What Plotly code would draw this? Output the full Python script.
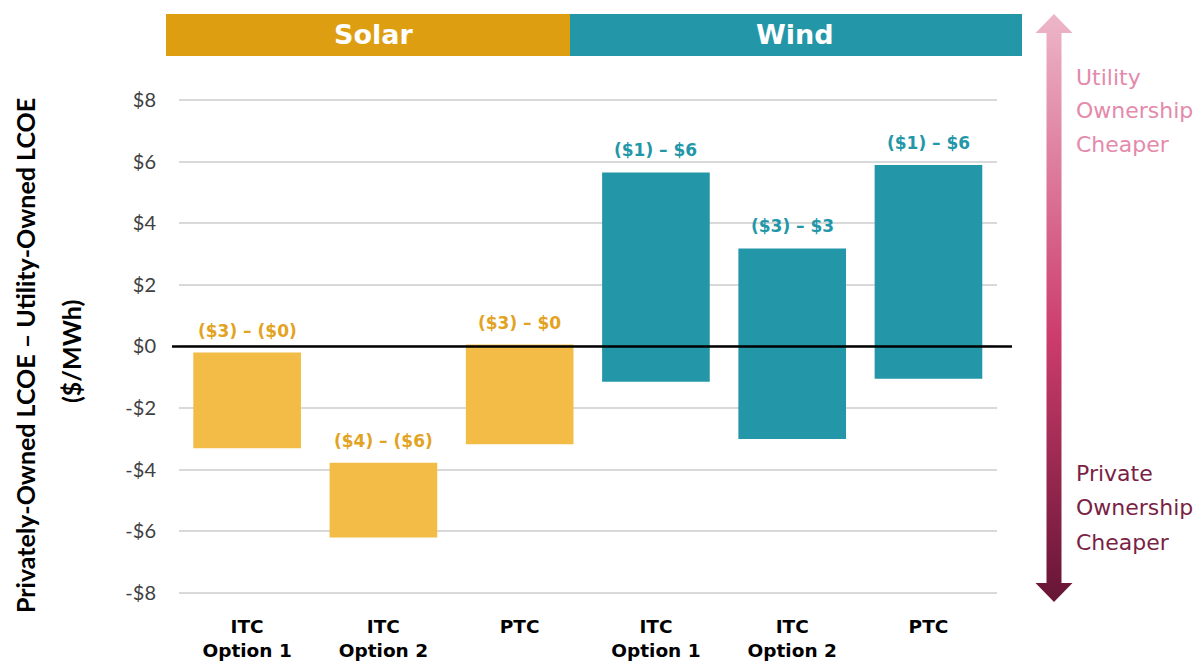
import plotly.graph_objects as go

# ---------------- data ----------------
incentives = ["ITC<br>Option 1", "ITC<br>Option 2", "PTC"]
technologies = ["Solar", "Wind"]

solar_low = [-3.31, -6.21, -3.18]
solar_high = [-0.20, -3.78, 0.06]
wind_low = [-1.15, -3.01, -1.05]
wind_high = [5.65, 3.18, 5.89]

solar_labels = ["($3) – ($0)", "($4) – ($6)", "($3) – $0"]
wind_labels = ["($1) – $6", "($3) – $3", "($1) – $6"]

y_tick_vals = [8, 6, 4, 2, 0, -2, -4, -6, -8]
y_tick_text = ["$8", "$6", "$4", "$2", "$0", "-$2", "-$4", "-$6", "-$8"]

y_title = "Privately-Owned LCOE – Utility-Owned LCOE"
y_unit = "($/MWh)"
up_lines = ["Utility", "Ownership", "Cheaper"]
down_lines = ["Private", "Ownership", "Cheaper"]

# ---------------- styles ----------------
FONT = "Lato"
WIDE = "DejaVu Sans"
SOLAR_BAR = "#F2BC47"
SOLAR_HEAD = "#DE9E12"
SOLAR_TXT = "#E2A323"
WIND = "#2397A8"
GRID = "#D9D9D9"

W, H = 1203, 662
ML, MR, MT, MB = 179, 0, 10, 57
PW = W - ML - MR
PH = H - MT - MB


def px_x(px):
    return (px - ML) / PW


def px_y(py):
    return (H - MB - py) / PH


solar_x = list(range(len(incentives)))
wind_x = [i + len(incentives) for i in range(len(incentives))]

fig = go.Figure()

fig.add_trace(go.Bar(
    x=solar_x, base=solar_low,
    y=[h - l for h, l in zip(solar_high, solar_low)],
    width=0.79, marker=dict(color=SOLAR_BAR, line=dict(width=0)),
    name="Solar", showlegend=False, hoverinfo="skip",
))
fig.add_trace(go.Bar(
    x=wind_x, base=wind_low,
    y=[h - l for h, l in zip(wind_high, wind_low)],
    width=0.79, marker=dict(color=WIND, line=dict(width=0)),
    name="Wind", showlegend=False, hoverinfo="skip",
))

annotations = []
for xs, highs, labels, col in [(solar_x, solar_high, solar_labels, SOLAR_TXT),
                               (wind_x, wind_high, wind_labels, WIND)]:
    for x, h, t in zip(xs, highs, labels):
        annotations.append(dict(
            x=x, y=h, xref="x", yref="y", text=t, showarrow=False,
            yanchor="bottom", yshift=10,
            font=dict(family=WIDE, size=17, color=col, weight="bold"),
        ))

# arrow (decoration) on its own pixel-like axes
ax_x0 = 1029
arrow_x = [25, 43.5, 32.5, 32.5, 43.5, 25, 6.5, 17.5, 17.5, 6.5, 25]
arrow_y = [591, 572, 572, 22, 22, 3, 22, 22, 572, 572, 591]
fig.add_trace(go.Scatter(
    x=arrow_x, y=arrow_y, xaxis="x2", yaxis="y2", mode="lines",
    line=dict(width=0), fill="toself",
    fillgradient=dict(type="vertical", start=3, stop=591,
                      colorscale=[[0, "#661535"], [0.45, "#CC3C6C"], [1, "#EDB6C8"]]),
    hoverinfo="skip", showlegend=False,
))

# header bands
shapes = [
    dict(type="rect", xref="paper", yref="paper",
         x0=px_x(166), x1=px_x(570), y0=px_y(56), y1=px_y(14),
         fillcolor=SOLAR_HEAD, line=dict(width=0), layer="below"),
    dict(type="rect", xref="paper", yref="paper",
         x0=px_x(570), x1=px_x(1022), y0=px_y(56), y1=px_y(14),
         fillcolor=WIND, line=dict(width=0), layer="below"),
    dict(type="line", xref="paper", yref="y",
         x0=px_x(172), x1=px_x(1012), y0=0, y1=0,
         line=dict(color="black", width=2.5)),
]
for name, cx in zip(technologies, [373, 795]):
    annotations.append(dict(
        x=px_x(cx), y=px_y(35), xref="paper", yref="paper", text=name,
        showarrow=False, xanchor="center", yanchor="middle",
        font=dict(family=WIDE, size=27, color="white", weight="bold"),
    ))

for lines, col, ys in [(up_lines, "#E48AAB", [77, 111, 145]),
                       (down_lines, "#7A1F45", [473, 507, 542])]:
    for t, py in zip(lines, ys):
        annotations.append(dict(
            x=px_x(1074), y=px_y(py), xref="paper", yref="paper", text=t,
            showarrow=False, xanchor="left", yanchor="middle", align="left",
            font=dict(family=WIDE, size=22, color=col),
        ))

annotations.append(dict(
    x=px_x(25), y=px_y(356), xref="paper", yref="paper", text=y_title,
    showarrow=False, textangle=-90, xanchor="center", yanchor="middle",
    font=dict(family=FONT, size=25, color="black", weight="bold"),
))
annotations.append(dict(
    x=px_x(71), y=px_y(352), xref="paper", yref="paper", text=y_unit,
    showarrow=False, textangle=-90, xanchor="center", yanchor="middle",
    font=dict(family=FONT, size=25, color="black", weight="bold"),
))

fig.update_layout(
    width=W, height=H,
    margin=dict(l=ML, r=MR, t=MT, b=MB, pad=0),
    paper_bgcolor="white", plot_bgcolor="white",
    barmode="overlay",
    showlegend=False,
    xaxis=dict(
        domain=[0, px_x(996.6)], range=[-0.5, 5.5],
        tickvals=solar_x + wind_x, ticktext=incentives + incentives,
        showgrid=False, zeroline=False, showline=False, ticks="",
        tickfont=dict(family=WIDE, size=18.5, color="black", weight="bold"),
        ticklabelstandoff=8,
    ),
    yaxis=dict(
        domain=[0, px_y(87.8)], range=[-8.4, 8.4],
        tickvals=y_tick_vals, ticktext=y_tick_text,
        showgrid=True, gridcolor=GRID, gridwidth=2,
        zeroline=False, showline=False, ticks="",
        tickfont=dict(family=FONT, size=20, color="#404040"),
        ticklabelstandoff=22,
    ),
    xaxis2=dict(domain=[px_x(ax_x0), px_x(ax_x0 + 50)], range=[0, 50],
                anchor="y2", visible=False, fixedrange=True),
    yaxis2=dict(domain=[0, 1], range=[0, PH], anchor="x2",
                visible=False, fixedrange=True),
    shapes=shapes,
    annotations=annotations,
)

fig.write_html("out.html")
